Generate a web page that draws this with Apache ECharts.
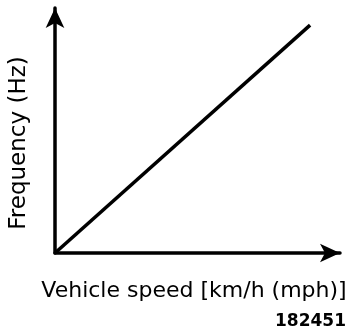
<!DOCTYPE html>
<html><head><meta charset="utf-8">
<script src="https://cdn.jsdelivr.net/npm/echarts@6/dist/echarts.min.js"></script>
<style>html,body{margin:0;padding:0;background:#fff}#c{width:352px;height:336px}</style>
</head><body><div id="c"></div>
<script>
const xName = 'Vehicle speed [km/h (mph)]';
const yName = 'Frequency (Hz)';
const figureId = '182451';
const speed = [0, 89.5];
const frequency = [0, 93];

const chart = echarts.init(document.getElementById('c'), null, {renderer: 'canvas'});
const axisCommon = {
  type: 'value', min: 0, max: 100,
  axisLine: {show: true, symbol: ['none', 'arrow'], symbolSize: [14, 20], lineStyle: {color: '#000', width: 3.5}},
  axisTick: {show: false}, axisLabel: {show: false}, splitLine: {show: false}
};
chart.setOption({
  animation: false,
  backgroundColor: '#fff',
  grid: {left: 55, right: 12, top: 8, bottom: 83, containLabel: false},
  xAxis: Object.assign({}, axisCommon),
  yAxis: Object.assign({}, axisCommon),
  graphic: [
    {type: 'text', x: 194, y: 291, style: {text: xName, fill: '#000', font: '22px "DejaVu Sans"', align: 'center', verticalAlign: 'middle'}},
    {type: 'text', x: 19, y: 143, rotation: Math.PI / 2, style: {text: yName, fill: '#000', font: '23px "DejaVu Sans"', align: 'center', verticalAlign: 'middle'}},
    {type: 'text', x: 346, y: 322, style: {text: figureId, fill: '#000', font: 'bold 17px "DejaVu Sans"', align: 'right', verticalAlign: 'middle'}}
  ],
  series: [{
    type: 'line', symbol: 'none',
    data: speed.map((s, i) => [s, frequency[i]]),
    lineStyle: {color: '#000', width: 3.5}
  }]
});
</script></body></html>
